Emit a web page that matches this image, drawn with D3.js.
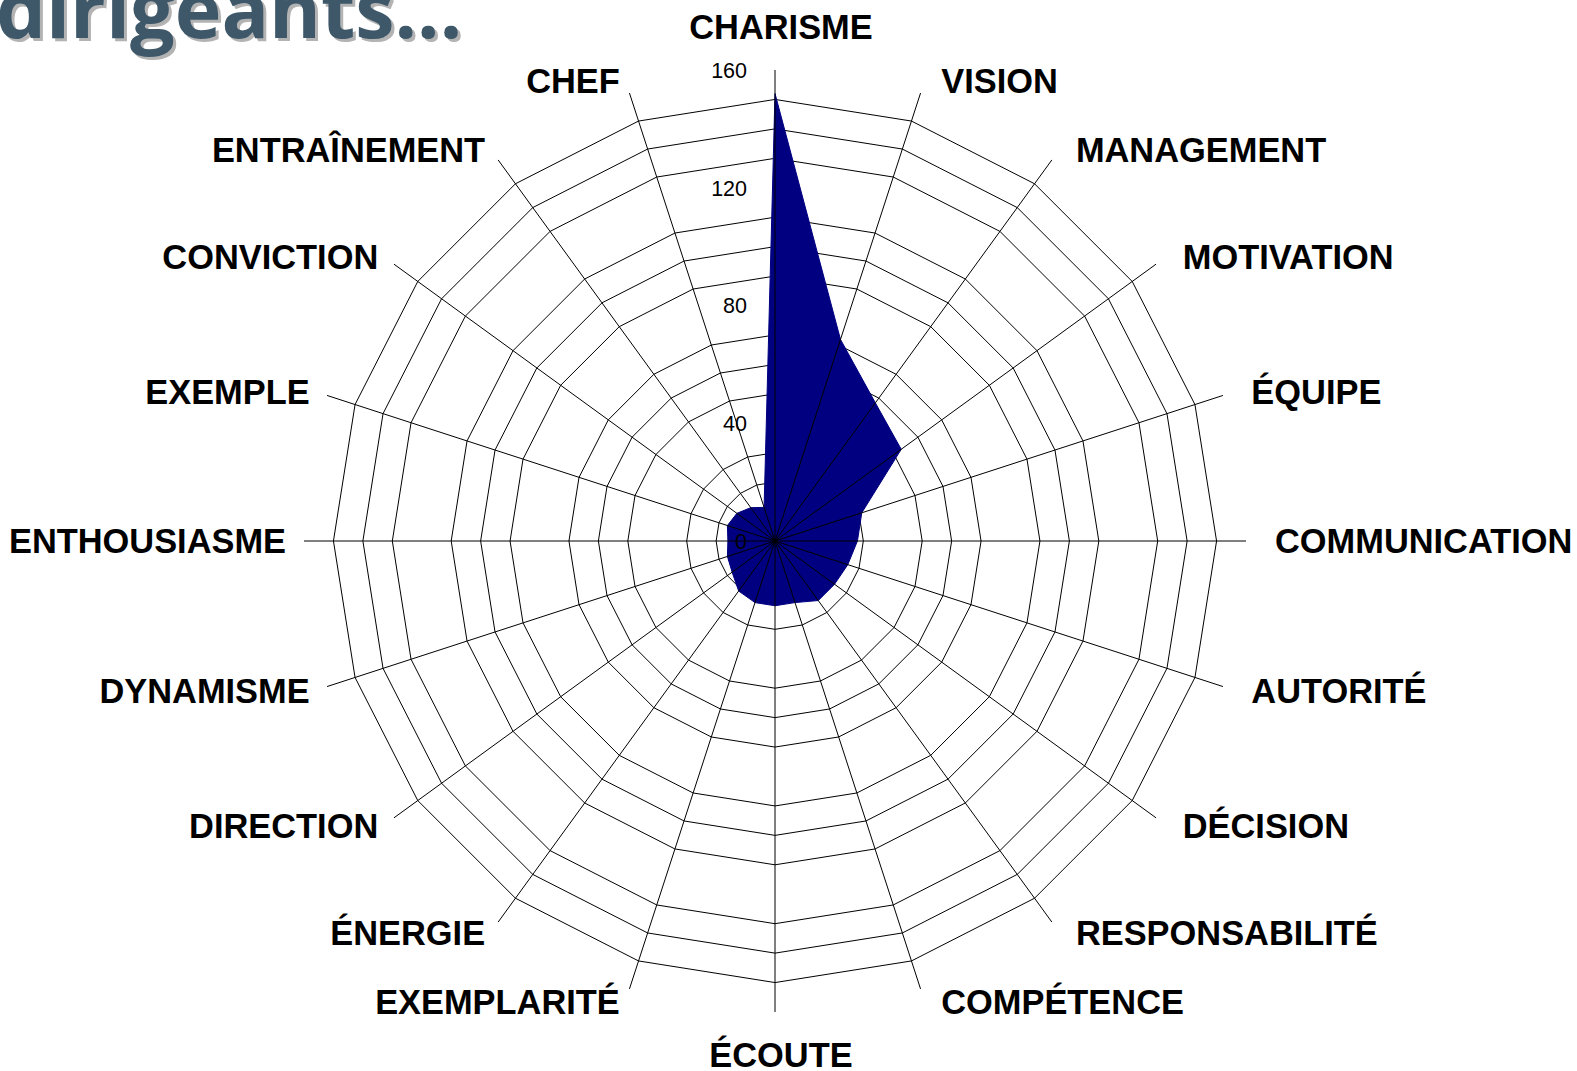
<!DOCTYPE html>
<html>
<head>
<meta charset="utf-8">
<script src="https://cdn.jsdelivr.net/npm/d3@7"></script>
<style>
  html, body { margin: 0; padding: 0; background: #fff; }
  svg { display: block; }
</style>
</head>
<body>
<svg id="radar" width="1577" height="1071"></svg>
<script>
// ─── Data ────────────────────────────────────────────────────────────────────
const categories = [
  'CHARISME', 'VISION', 'MANAGEMENT', 'MOTIVATION', 'ÉQUIPE', 'COMMUNICATION',
  'AUTORITÉ', 'DÉCISION', 'RESPONSABILITÉ', 'COMPÉTENCE', 'ÉCOUTE', 'EXEMPLARITÉ',
  'ÉNERGIE', 'DIRECTION', 'DYNAMISME', 'ENTHOUSIASME', 'EXEMPLE', 'CONVICTION',
  'ENTRAÎNEMENT', 'CHEF'
];
const scores = [152, 72, 58, 53, 31, 28, 26, 25, 25, 22, 22, 22, 21, 18, 17, 16, 17, 16, 14, 12];
const tickLabels = [0, 40, 80, 120, 160];
const titleText = 'dirigeants...';

// ─── Layout ──────────────────────────────────────────────────────────────────
const W = 1577, H = 1071;
const CX = 775, CY = 541;
const R_MAX = 471;
const MAX_VALUE = 160;
const MINOR_STEP = 10;   // grid rings every 10; the major (40) rings are not drawn

const svg = d3.select('#radar');

const r = d3.scaleLinear().domain([0, MAX_VALUE]).range([0, R_MAX]);
const angle = d3.scaleLinear().domain([0, categories.length]).range([0, 2 * Math.PI]);

const g = svg.append('g').attr('transform', `translate(${CX},${CY})`);

// ── Grid rings (polygons) ────────────────────────────────────────────────────
const ringValues = d3.range(MINOR_STEP, MAX_VALUE, MINOR_STEP).filter(v => v % 40 !== 0);
const ringLine = d3.lineRadial()
  .angle((d, i) => angle(i))
  .radius(d => r(d))
  .curve(d3.curveLinearClosed);

g.append('g')
  .attr('fill', 'none')
  .attr('stroke', '#000')
  .attr('stroke-width', 1)
  .selectAll('path')
  .data(ringValues)
  .join('path')
  .attr('d', v => ringLine(categories.map(() => v)));

// ── Series area ──────────────────────────────────────────────────────────────
g.append('path')
  .datum(scores)
  .attr('d', ringLine)
  .attr('fill', '#000080')
  .attr('stroke', '#000080')
  .attr('stroke-width', 1);

// ── Spokes ───────────────────────────────────────────────────────────────────
g.append('g')
  .attr('stroke', '#000')
  .attr('stroke-width', 1)
  .selectAll('line')
  .data(categories)
  .join('line')
  .attr('x1', 0).attr('y1', 0)
  .attr('x2', (d, i) => r(MAX_VALUE) * Math.sin(angle(i)))
  .attr('y2', (d, i) => -r(MAX_VALUE) * Math.cos(angle(i)));

// ── Value axis labels ────────────────────────────────────────────────────────
g.append('g')
  .selectAll('text')
  .data(tickLabels)
  .join('text')
  .attr('x', -28)
  .attr('y', v => -r(v))
  .attr('dy', '0.36em')
  .attr('text-anchor', 'end')
  .style('font-family', '"Liberation Sans", Arial, sans-serif')
  .style('font-size', '21.5px')
  .style('fill', '#000')
  .text(v => v);

// ── Category labels ──────────────────────────────────────────────────────────
// Labels sit just outside the spoke ends; the whole label set is nudged right.
g.append('g')
  .selectAll('text')
  .data(categories)
  .join('text')
  .each(function (d, i) {
    const a = angle(i);
    const s = Math.sin(a), c = Math.cos(a);
    const ex = R_MAX * s, ey = -R_MAX * c;
    const t = d3.select(this);
    if (Math.abs(s) < 1e-6) {
      t.attr('x', ex + 6).attr('y', ey + (c > 0 ? -43 : 43)).attr('text-anchor', 'middle');
    } else {
      const dx = Math.sign(s) * (11.5 + 12 * Math.abs(s)) + 5.5;
      t.attr('x', ex + dx).attr('y', ey - 13 * c).attr('text-anchor', s > 0 ? 'start' : 'end');
    }
  })
  .attr('dy', '0.36em')
  .style('font-family', '"Liberation Sans", Arial, sans-serif')
  .style('font-weight', 'bold')
  .style('font-size', '34.4px')
  .style('fill', '#000')
  .text(d => d);

// ── Title (cropped at the top of the slide) ─────────────────────────────────
const title = svg.append('g')
  .style('font-family', '"Open Sans", sans-serif')
  .style('font-weight', 'bold')
  .style('font-size', '79px');

title.append('text')
  .attr('x', -1).attr('y', 41)
  .style('fill', '#b3b3b3')
  .text(titleText);

title.append('text')
  .attr('x', -4).attr('y', 38)
  .style('fill', '#3e5869')
  .text(titleText);
</script>
</body>
</html>
